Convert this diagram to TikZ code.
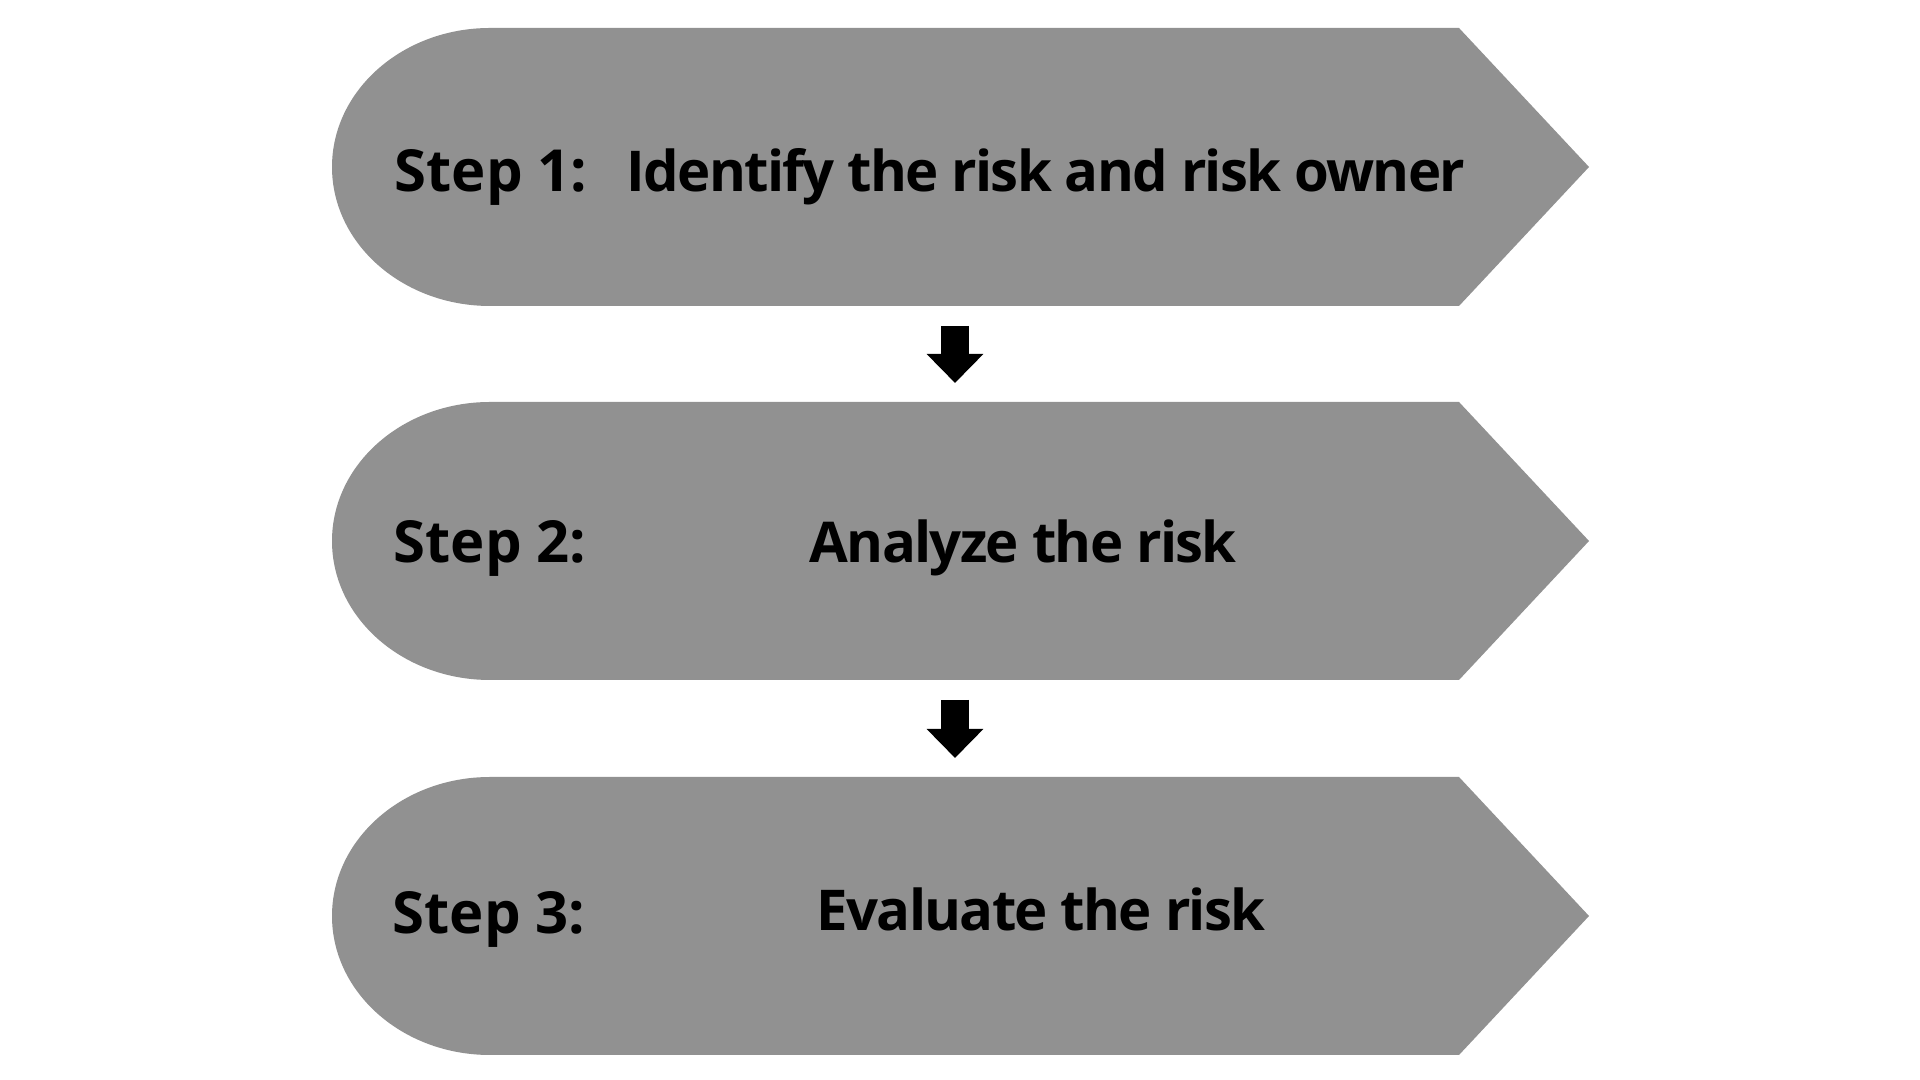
\documentclass[tikz,border=0pt]{standalone}
\usepackage{fontspec}
\setmainfont{Open Sans}
\newfontfamily\taskfont[LetterSpace=-3]{Open Sans}
\usetikzlibrary{arrows.meta}
\definecolor{stepgray}{RGB}{145,145,145}
\begin{document}
\begin{tikzpicture}[line join = round, >=Stealth, font=\bfseries\fontsize{16.5}{19}\selectfont,
	txt/.style={anchor=base west, inner sep=0pt},
	task/.style={txt, font=\taskfont\bfseries\fontsize{16}{19}\selectfont},
	down/.style={line width=2.8mm, -{Triangle[width=5.5mm,length=2.9mm]}}]
	\useasboundingbox (0,0) rectangle (19.2,10.8);
	% the three step shapes
	\foreach \i/\y in {1/9.13, 2/5.39, 3/1.64}{
		\fill[stepgray] (4.90,\y+1.39) -- (14.59,\y+1.39) -- (15.89,\y) -- (14.59,\y-1.39) -- (4.90,\y-1.39)
			arc[start angle=270, end angle=90, x radius=1.58, y radius=1.39] -- cycle;
		\coordinate (top\i) at (9.55,\y+1.39);
		\coordinate (bot\i) at (9.55,\y-1.39);
	}
	\node[txt] (s1) at (3.94,8.88) {Step 1:};
	\node[task] (t1) at (6.26,8.88) {Identify the risk and risk owner};
	\node[txt] (s2) at (3.93,5.17) {Step 2:};
	\node[task] (t2) at (8.09,5.17) {Analyze the risk};
	\node[txt] (s3) at (3.92,1.46) {Step 3:};
	\node[task] (t3) at (8.16,1.49) {Evaluate the risk};
	% arrows between steps
	\draw[down] ([yshift=-2mm]bot1) -- ([yshift=1.9mm]top2);
	\draw[down] ([yshift=-2mm]bot2) -- ([yshift=1.9mm]top3);
\end{tikzpicture}
\end{document}
